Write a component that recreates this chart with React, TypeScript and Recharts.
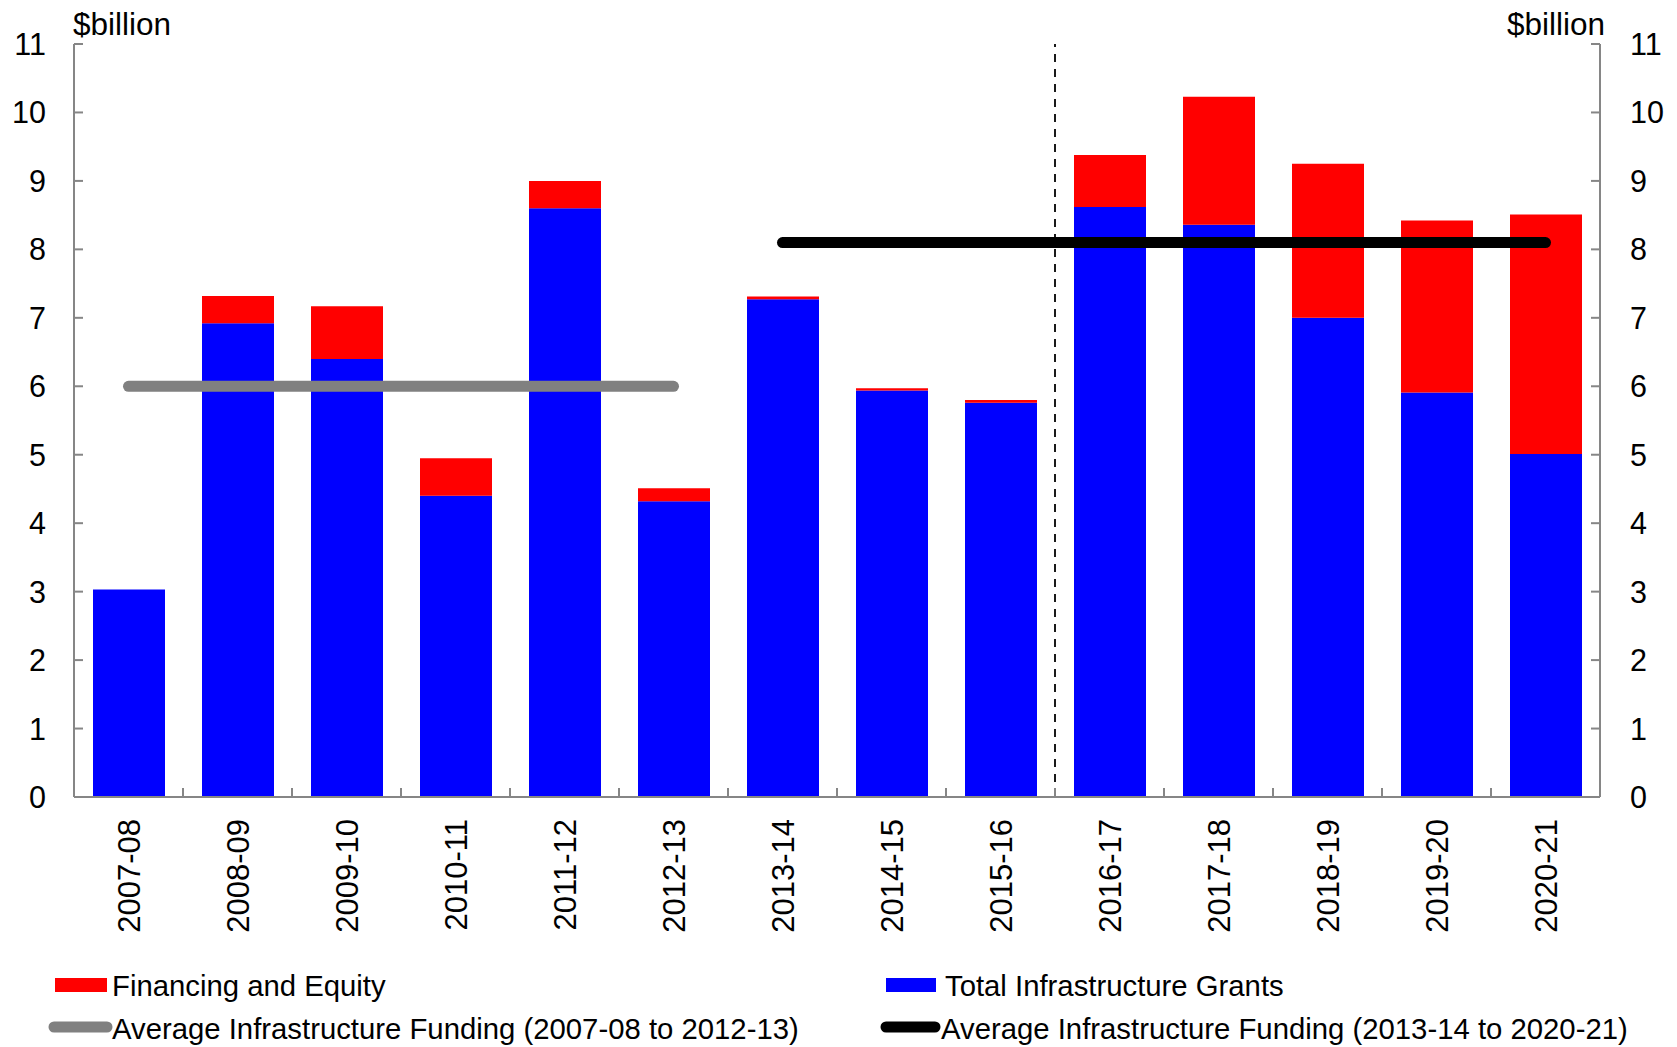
import React from 'react';
import { ComposedChart, Bar, Line, XAxis, YAxis, ReferenceLine } from 'recharts';

const categories = ['2007-08', '2008-09', '2009-10', '2010-11', '2011-12', '2012-13', '2013-14', '2014-15', '2015-16', '2016-17', '2017-18', '2018-19', '2019-20', '2020-21'];
const grants = [3.03, 6.92, 6.40, 4.40, 8.60, 4.32, 7.27, 5.94, 5.76, 8.62, 8.36, 7.00, 5.91, 5.01];
const financing = [0, 0.40, 0.77, 0.55, 0.40, 0.19, 0.04, 0.03, 0.04, 0.76, 1.87, 2.25, 2.51, 3.50];
const avgEarly = [6.0, 6.0, 6.0, 6.0, 6.0, 6.0, null, null, null, null, null, null, null, null];
const avgLate = [null, null, null, null, null, null, 8.1, 8.1, 8.1, 8.1, 8.1, 8.1, 8.1, 8.1];
const yTicks = [0, 1, 2, 3, 4, 5, 6, 7, 8, 9, 10, 11];
const dividerCategory = '2016-17';

const seriesNames = {
  financing: 'Financing and Equity',
  grants: 'Total Infrastructure Grants',
  avgEarly: 'Average Infrastructure Funding (2007-08 to 2012-13)',
  avgLate: 'Average Infrastructure Funding (2013-14 to 2020-21)',
};
const unitLabel = '$billion';

const data = categories.map((c, i) => ({
  category: c,
  grants: grants[i],
  financing: financing[i],
  avgEarly: avgEarly[i],
  avgLate: avgLate[i],
}));

const FONT = 'Liberation Sans, Arial, sans-serif';
const AXIS = '#868686';

const LeftTick = (props: any) => {
  const { x, y, payload } = props;
  return (
    <g>
      <line x1={x} x2={x + 9} y1={y} y2={y} stroke={AXIS} strokeWidth={2} />
      <text x={x - 28} y={y} dy="0.36em" textAnchor="end" fontSize={30.5} fontFamily={FONT} fill="#000">
        {payload.value}
      </text>
    </g>
  );
};

const RightTick = (props: any) => {
  const { x, y, payload } = props;
  return (
    <g>
      <line x1={x} x2={x - 9} y1={y} y2={y} stroke={AXIS} strokeWidth={2} />
      <text x={x + 30} y={y} dy="0.36em" textAnchor="start" fontSize={30.5} fontFamily={FONT} fill="#000">
        {payload.value}
      </text>
    </g>
  );
};

const XTick = (props: any) => {
  const { x, y, payload, index } = props;
  const half = payload && typeof payload.offset === 'number' && payload.offset > 0 ? payload.offset : 54.5;
  return (
    <g>
      {index < categories.length - 1 && (
        <line x1={x + half} x2={x + half} y1={y} y2={y - 9} stroke={AXIS} strokeWidth={2} />
      )}
      <text
        transform={`translate(${x},${y + 22}) rotate(-90)`}
        textAnchor="end"
        dy="0.36em"
        fontSize={31}
        fontFamily={FONT}
        fill="#000"
      >
        {payload.value}
      </text>
    </g>
  );
};

export default function App() {
  return (
    <div style={{ position: 'absolute', left: 0, top: 0, width: 1677, height: 1047, background: '#fff' }}>
      <ComposedChart
        width={1677}
        height={1047}
        data={data}
        margin={{ top: 44, right: 0, left: 0, bottom: 110 }}
        barSize={72}
      >
        <XAxis
          dataKey="category"
          height={140}
          interval={0}
          tickSize={0}
          tickMargin={0}
          tickLine={false}
          axisLine={{ stroke: AXIS, strokeWidth: 2 }}
          tick={<XTick />}
        />
        <YAxis
          yAxisId="left"
          width={74}
          domain={[0, 11]}
          ticks={yTicks}
          interval={0}
          tickSize={0}
          tickMargin={0}
          tickLine={false}
          axisLine={{ stroke: AXIS, strokeWidth: 2 }}
          tick={<LeftTick />}
        />
        <YAxis
          yAxisId="right"
          orientation="right"
          width={77}
          domain={[0, 11]}
          ticks={yTicks}
          interval={0}
          tickSize={0}
          tickMargin={0}
          tickLine={false}
          axisLine={{ stroke: AXIS, strokeWidth: 2 }}
          tick={<RightTick />}
        />
        <Bar yAxisId="left" dataKey="grants" stackId="a" fill="#0000FF" isAnimationActive={false} />
        <Bar yAxisId="left" dataKey="financing" stackId="a" fill="#FF0000" isAnimationActive={false} />
        <ReferenceLine
          yAxisId="left"
          x={dividerCategory}
          position="start"
          stroke="#1a1a1a"
          strokeWidth={2}
          strokeDasharray="8 7"
        />
        <Line
          yAxisId="left"
          dataKey="avgEarly"
          stroke="#808080"
          strokeWidth={11}
          strokeLinecap="round"
          dot={false}
          activeDot={false}
          isAnimationActive={false}
        />
        <Line
          yAxisId="right"
          dataKey="avgLate"
          stroke="#000000"
          strokeWidth={11}
          strokeLinecap="round"
          dot={false}
          activeDot={false}
          isAnimationActive={false}
        />
      </ComposedChart>
      <svg
        width={1677}
        height={1047}
        style={{ position: 'absolute', left: 0, top: 0, pointerEvents: 'none' }}
        fontFamily={FONT}
      >
        <text x={73} y={35} fontSize={31.5} fill="#000">{unitLabel}</text>
        <text x={1605} y={35} fontSize={31.5} fill="#000" textAnchor="end">{unitLabel}</text>

        <rect x={55} y={978} width={52} height={14} fill="#FF0000" />
        <text x={112} y={996} fontSize={29.3} fill="#000">{seriesNames.financing}</text>
        <line x1={54} x2={107} y1={1027} y2={1027} stroke="#808080" strokeWidth={11} strokeLinecap="round" />
        <text x={112} y={1039} fontSize={29.3} fill="#000">{seriesNames.avgEarly}</text>

        <rect x={886} y={978} width={50} height={14} fill="#0000FF" />
        <text x={945} y={996} fontSize={29.3} fill="#000">{seriesNames.grants}</text>
        <line x1={886} x2={935} y1={1027} y2={1027} stroke="#000000" strokeWidth={11} strokeLinecap="round" />
        <text x={941} y={1039} fontSize={29.3} fill="#000">{seriesNames.avgLate}</text>
      </svg>
    </div>
  );
}
